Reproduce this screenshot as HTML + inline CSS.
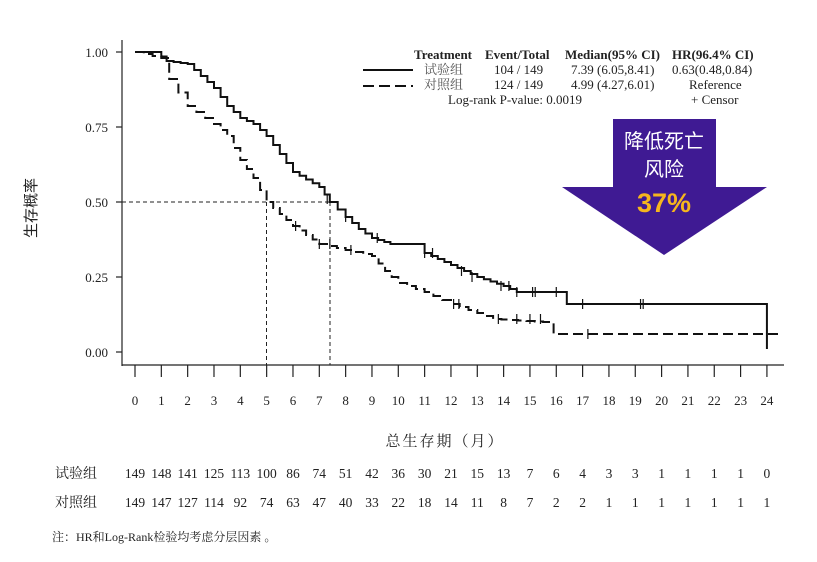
<!DOCTYPE html>
<html><head><meta charset="utf-8"><style>
body{margin:0;background:#fff;width:817px;height:562px;overflow:hidden}
svg{display:block}
text{font-family:"Liberation Serif","Noto Serif CJK SC",serif;fill:#222}
text.sans{font-family:"Liberation Sans","Noto Sans CJK SC",sans-serif}
</style></head><body>
<svg id="s" width="817" height="562" viewBox="0 0 817 562">
<g stroke="#222" stroke-width="1.2" fill="none">
<line x1="122" y1="40" x2="122" y2="366"/>
<line x1="122" y1="365" x2="784" y2="365"/>
<line x1="116" y1="52" x2="122" y2="52"/><line x1="116" y1="127" x2="122" y2="127"/>
<line x1="116" y1="202" x2="122" y2="202"/><line x1="116" y1="277" x2="122" y2="277"/>
<line x1="116" y1="352" x2="122" y2="352"/>
</g>
<g stroke="#222" stroke-width="1" stroke-dasharray="4,3" fill="none">
<line x1="122" y1="202" x2="330" y2="202"/>
<line x1="266.5" y1="202" x2="266.5" y2="365"/>
<line x1="330" y1="202" x2="330" y2="365"/>
</g>
<g font-size="13" text-anchor="end">
<text x="108" y="57">1.00</text><text x="108" y="132">0.75</text><text x="108" y="207">0.50</text><text x="108" y="282">0.25</text><text x="108" y="357">0.00</text>
</g>
<g id="xt" font-size="13" text-anchor="middle"></g>
<text class="sans" x="0" y="0" font-size="15" transform="translate(36,208) rotate(-90)" text-anchor="middle">生存概率</text>
<text x="445" y="446" font-size="15" text-anchor="middle" letter-spacing="2">总生存期（月）</text>
<text x="55" y="478" font-size="14">试验组</text>
<text x="55" y="507" font-size="14">对照组</text>
<g id="tb" font-size="13.5" text-anchor="middle"></g>
<text x="52" y="541" font-size="12">注：HR和Log-Rank检验均考虑分层因素 。</text>
<path id="p1" fill="none" stroke="#111" stroke-width="2"/>
<path id="p2" fill="none" stroke="#111" stroke-width="2" stroke-dasharray="10,5"/>
<g id="cen" stroke="#111" stroke-width="1.2"></g>
<g font-size="13">
<text x="414" y="59" font-weight="bold">Treatment</text>
<text x="485" y="59" font-weight="bold">Event/Total</text>
<text x="565" y="59" font-weight="bold">Median(95% CI)</text>
<text x="672" y="59" font-weight="bold">HR(96.4% CI)</text>
<line x1="363" y1="70" x2="413" y2="70" stroke="#111" stroke-width="2"/>
<line x1="363" y1="86" x2="413" y2="86" stroke="#111" stroke-width="2" stroke-dasharray="11,5"/>
<text x="424" y="74" style="fill:#555">试验组</text><text x="494" y="74">104 / 149</text><text x="571" y="74">7.39 (6.05,8.41)</text><text x="672" y="74">0.63(0.48,0.84)</text>
<text x="424" y="89" style="fill:#555">对照组</text><text x="494" y="89">124 / 149</text><text x="571" y="89">4.99 (4.27,6.01)</text><text x="689" y="89">Reference</text>
<text x="448" y="104">Log-rank P-value: 0.0019</text><text x="691" y="104">+  Censor</text>
</g>
<polygon points="613,119 716,119 716,187 767,187 664,255 562,187 613,187" fill="#3f1a93"/>
<text class="sans" x="664" y="148" font-size="20" style="fill:#fff" text-anchor="middle">降低死亡</text>
<text class="sans" x="664" y="176" font-size="20" style="fill:#fff" text-anchor="middle">风险</text>
<text class="sans" x="664" y="212" font-size="27" style="fill:#f6b51d" font-weight="bold" text-anchor="middle">37%</text>
</svg>
<script>
var X=m=>135+m*26.33,Y=v=>352-v*300;
var xt=document.getElementById('xt'),tb=document.getElementById('tb');
var r1=[149,148,141,125,113,100,86,74,51,42,36,30,21,15,13,7,6,4,3,3,1,1,1,1,0];
var r2=[149,147,127,114,92,74,63,47,40,33,22,18,14,11,8,7,2,2,1,1,1,1,1,1,1];
var h='',t='',tk='';
for(var i=0;i<=24;i++){var x=X(i);h+='<text x="'+x+'" y="405">'+i+'</text>';
tk+='<line x1="'+x+'" y1="365" x2="'+x+'" y2="377" stroke="#222" stroke-width="1.2"/>';
t+='<text x="'+x+'" y="478">'+r1[i]+'</text><text x="'+x+'" y="507">'+r2[i]+'</text>';}
xt.innerHTML=h+tk;tb.innerHTML=t;
function step(k,dt){var d='M'+X(0)+','+Y(1);
for(var j=1;j<k.length;j++){var a=k[j-1],b=k[j],n=Math.max(1,Math.round((b[0]-a[0])/dt));
for(var q=1;q<=n;q++){var m=a[0]+(b[0]-a[0])*q/n,v=a[1]+(b[1]-a[1])*q/n;d+='H'+X(m).toFixed(1)+'V'+Y(v).toFixed(1);}}
return d;}
var k1=[[0,1],[0.8,1],[1.2,0.97],[2,0.96],[2.5,0.92],[3,0.88],[3.5,0.82],[4,0.78],[4.5,0.76],[5,0.72],[5.5,0.66],[6,0.60],[6.5,0.575],[7,0.55],[7.4,0.50],[8,0.45],[8.5,0.41],[9,0.38],[9.7,0.36],[10.7,0.36],[11,0.33],[12,0.29],[13,0.25],[14,0.22],[14.5,0.20],[16.3,0.20]];
var d1=step(k1,0.25)+'H'+X(16.4)+'V'+Y(0.16)+'H'+X(24)+'V'+Y(0.01);
var k2=[[0,1],[1,0.98],[1.3,0.91],[2,0.82],[3,0.76],[3.5,0.72],[4,0.64],[4.5,0.58],[5,0.50],[5.5,0.46],[6,0.42],[6.5,0.39],[7,0.36],[8,0.34],[9,0.32],[9.5,0.27],[10,0.23],[11,0.20],[12,0.16],[13,0.13],[13.6,0.11],[15.5,0.10],[15.9,0.06]];
var d2=step(k2,0.3)+'H'+X(24.5);
document.getElementById('p1').setAttribute('d',d1);document.getElementById('p2').setAttribute('d',d2);
var c='',cs1=[[7.3,0.51],[8,0.45],[9.2,0.38],[11,0.33],[11.3,0.33],[12.4,0.27],[12.8,0.25],[13.9,0.22],[14.2,0.22],[14.5,0.20],[15.1,0.20],[15.2,0.20],[16,0.20],[17,0.16],[19.2,0.16],[19.3,0.16]],
cs2=[[6.1,0.42],[7,0.36],[7.4,0.36],[8.2,0.34],[12.1,0.16],[12.3,0.16],[13.8,0.11],[14.5,0.11],[15,0.11],[15.4,0.11],[17.2,0.06],[24,0.06]];
cs1.concat(cs2).forEach(p=>{var x=X(p[0]),y=Y(p[1]);c+='<line x1="'+x+'" y1="'+(y-5)+'" x2="'+x+'" y2="'+(y+5)+'"/>';});
document.getElementById('cen').innerHTML=c;
</script>
</body></html>
